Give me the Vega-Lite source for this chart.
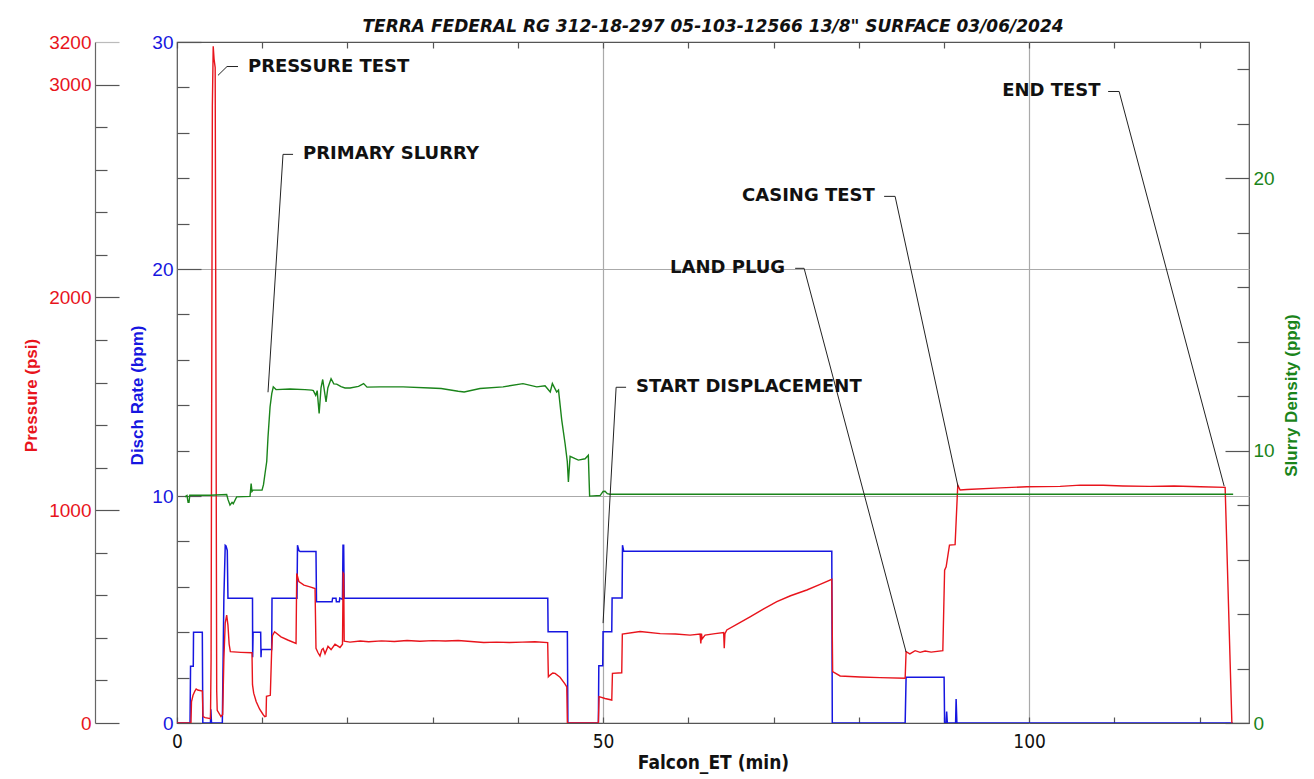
{
  "$schema": "https://vega.github.io/schema/vega-lite/v6.json",
  "width": 1072,
  "height": 681,
  "autosize": {"type": "none"},
  "padding": {"left": 177, "top": 42, "right": 65, "bottom": 56},
  "background": "white",
  "config": {
    "view": {"stroke": "#555", "strokeWidth": 1.2},
    "axis": {
      "labelFont": "Liberation Sans", "labelFontSize": 19,
      "titleFont": "Liberation Sans", "titleFontSize": 17, "titleFontWeight": "bold",
      "tickColor": "#555", "tickWidth": 1.2,
      "labelFlush": false, "labelOverlap": false, "labelBound": false
    }
  },
  "title": {
    "text": "TERRA FEDERAL RG 312-18-297 05-103-12566 13/8\" SURFACE 03/06/2024",
    "font": "DejaVu Sans", "fontSize": 17, "fontWeight": "bold", "fontStyle": "italic",
    "color": "#111", "anchor": "middle", "frame": "group", "baseline": "alphabetic", "offset": -16
  },
  "datasets": {
    "rate": [
      {"t":0,"r":0},{"t":1.53,"r":0},{"t":1.59,"r":2.5},{"t":1.91,"r":2.5},{"t":1.94,"r":4.0},{"t":2.97,"r":4.0},{"t":3.03,"r":0},{"t":3.93,"r":0},{"t":3.97,"r":0.6},{"t":4.05,"r":0},{"t":5.32,"r":0},{"t":5.5,"r":5.5},{"t":5.66,"r":7.83},{"t":5.75,"r":7.8},{"t":5.9,"r":7.6},{"t":5.98,"r":5.5},{"t":8.86,"r":5.5},{"t":8.88,"r":2.9},{"t":8.93,"r":4.0},{"t":9.82,"r":4.0},{"t":9.86,"r":2.9},{"t":9.9,"r":3.24},{"t":11.11,"r":3.24},{"t":11.15,"r":5.5},{"t":14.08,"r":5.5},{"t":14.14,"r":7.83},{"t":14.3,"r":7.6},{"t":14.45,"r":7.55},{"t":16.31,"r":7.55},{"t":16.37,"r":5.34},{"t":18.2,"r":5.34},{"t":18.26,"r":5.5},{"t":18.66,"r":5.5},{"t":18.7,"r":5.34},{"t":19.05,"r":5.34},{"t":19.1,"r":5.5},{"t":19.42,"r":5.45},{"t":19.48,"r":7.83},{"t":19.56,"r":7.83},{"t":19.62,"r":5.5},{"t":43.51,"r":5.5},{"t":43.55,"r":4.02},{"t":45.81,"r":4.02},{"t":45.87,"r":0},{"t":49.45,"r":0},{"t":49.5,"r":2.52},{"t":49.96,"r":2.52},{"t":50.0,"r":4.02},{"t":51.02,"r":4.02},{"t":51.06,"r":5.51},{"t":52.23,"r":5.51},{"t":52.28,"r":7.83},{"t":52.42,"r":7.57},{"t":76.84,"r":7.57},{"t":76.9,"r":0},{"t":85.45,"r":0},{"t":85.56,"r":2.01},{"t":90.02,"r":2.01},{"t":90.08,"r":0},{"t":90.26,"r":0},{"t":90.32,"r":0.5},{"t":90.4,"r":0},{"t":91.37,"r":0},{"t":91.43,"r":1.06},{"t":91.52,"r":0},{"t":123.9,"r":0}
    ],
    "pressure": [
      {"t":0,"p":0},{"t":1.64,"p":0},{"t":1.7,"p":100},{"t":1.88,"p":130},{"t":2.1,"p":150},{"t":2.25,"p":160},{"t":2.43,"p":155},{"t":2.98,"p":150},{"t":3.05,"p":30},{"t":3.3,"p":25},{"t":3.93,"p":20},{"t":4.0,"p":300},{"t":4.15,"p":2900},{"t":4.25,"p":3180},{"t":4.35,"p":3120},{"t":4.48,"p":3080},{"t":4.58,"p":1500},{"t":4.66,"p":150},{"t":4.72,"p":60},{"t":5.16,"p":30},{"t":5.36,"p":40},{"t":5.5,"p":300},{"t":5.66,"p":470},{"t":5.83,"p":507},{"t":5.98,"p":460},{"t":6.12,"p":370},{"t":6.26,"p":335},{"t":7.5,"p":332},{"t":8.8,"p":330},{"t":8.86,"p":180},{"t":9.0,"p":140},{"t":9.3,"p":100},{"t":9.7,"p":65},{"t":10.1,"p":40},{"t":10.3,"p":30},{"t":10.45,"p":32},{"t":10.5,"p":125},{"t":10.95,"p":130},{"t":11.1,"p":330},{"t":11.2,"p":410},{"t":11.45,"p":429},{"t":12.2,"p":405},{"t":13.0,"p":390},{"t":13.97,"p":374},{"t":14.05,"p":703},{"t":14.3,"p":665},{"t":14.9,"p":648},{"t":15.6,"p":640},{"t":16.2,"p":632},{"t":16.31,"p":351},{"t":16.55,"p":330},{"t":16.78,"p":315},{"t":17.0,"p":345},{"t":17.15,"p":350},{"t":17.37,"p":325},{"t":17.72,"p":360},{"t":18.08,"p":345},{"t":18.54,"p":370},{"t":19.13,"p":355},{"t":19.42,"p":370},{"t":19.5,"p":704},{"t":19.56,"p":700},{"t":19.62,"p":385},{"t":20.3,"p":380},{"t":21.5,"p":385},{"t":22.5,"p":382},{"t":24.0,"p":386},{"t":25.5,"p":383},{"t":27,"p":388},{"t":28.5,"p":384},{"t":30,"p":387},{"t":31.5,"p":385},{"t":33,"p":388},{"t":34.5,"p":383},{"t":36,"p":378},{"t":37.5,"p":380},{"t":39,"p":378},{"t":40.5,"p":380},{"t":42,"p":382},{"t":43.5,"p":378},{"t":43.58,"p":217},{"t":43.78,"p":225},{"t":44.1,"p":235},{"t":44.37,"p":233},{"t":44.95,"p":215},{"t":45.5,"p":185},{"t":45.74,"p":170},{"t":45.81,"p":0},{"t":49.45,"p":0},{"t":49.53,"p":124},{"t":50.23,"p":115},{"t":51.02,"p":108},{"t":51.1,"p":233},{"t":52.19,"p":236},{"t":52.26,"p":418},{"t":54.34,"p":430},{"t":56.7,"p":420},{"t":58.5,"p":418},{"t":60.21,"p":413},{"t":61.38,"p":418},{"t":61.47,"p":374},{"t":61.55,"p":420},{"t":61.62,"p":395},{"t":61.97,"p":413},{"t":63.15,"p":420},{"t":64.15,"p":425},{"t":64.22,"p":351},{"t":64.3,"p":420},{"t":64.52,"p":437},{"t":66,"p":470},{"t":67.25,"p":499},{"t":68.8,"p":535},{"t":70.39,"p":570},{"t":72,"p":598},{"t":73.91,"p":625},{"t":75.4,"p":650},{"t":76.84,"p":675},{"t":76.94,"p":241},{"t":77.82,"p":221},{"t":80.16,"p":216},{"t":82.51,"p":213},{"t":85.45,"p":210},{"t":85.56,"p":335},{"t":86.0,"p":325},{"t":86.62,"p":340},{"t":87.2,"p":332},{"t":87.79,"p":338},{"t":88.5,"p":333},{"t":89.87,"p":340},{"t":90.08,"p":718},{"t":90.26,"p":734},{"t":90.65,"p":836},{"t":91.31,"p":838},{"t":91.58,"p":1079},{"t":91.63,"p":1117},{"t":91.9,"p":1095},{"t":92.69,"p":1097},{"t":96.6,"p":1105},{"t":99.73,"p":1110},{"t":103.64,"p":1112},{"t":106,"p":1118},{"t":108.69,"p":1117},{"t":111,"p":1114},{"t":114.2,"p":1112},{"t":117,"p":1114},{"t":120.1,"p":1110},{"t":123.0,"p":1107},{"t":123.79,"p":0}
    ],
    "density": [
      {"t":0.94,"d":8.30},{"t":1.17,"d":8.35},{"t":1.3,"d":8.1},{"t":1.41,"d":8.1},{"t":1.5,"d":8.36},{"t":3.87,"d":8.36},{"t":5.83,"d":8.39},{"t":5.99,"d":8.2},{"t":6.22,"d":8.0},{"t":6.46,"d":8.1},{"t":6.6,"d":8.05},{"t":7.0,"d":8.30},{"t":8.57,"d":8.32},{"t":8.7,"d":8.79},{"t":8.8,"d":8.5},{"t":8.92,"d":8.55},{"t":9.98,"d":8.55},{"t":10.15,"d":8.75},{"t":10.33,"d":9.16},{"t":10.53,"d":9.6},{"t":10.68,"d":10.5},{"t":10.92,"d":11.6},{"t":11.12,"d":12.09},{"t":11.3,"d":12.34},{"t":11.62,"d":12.24},{"t":13.26,"d":12.26},{"t":15.02,"d":12.24},{"t":15.81,"d":12.22},{"t":16.0,"d":12.2},{"t":16.28,"d":12.03},{"t":16.45,"d":12.2},{"t":16.68,"d":11.36},{"t":16.9,"d":12.3},{"t":17.1,"d":12.61},{"t":17.49,"d":11.79},{"t":17.7,"d":12.3},{"t":18.08,"d":12.64},{"t":18.4,"d":12.45},{"t":18.74,"d":12.44},{"t":19.25,"d":12.35},{"t":19.72,"d":12.30},{"t":20.31,"d":12.30},{"t":21.3,"d":12.36},{"t":21.9,"d":12.46},{"t":22.3,"d":12.33},{"t":23.83,"d":12.34},{"t":26.53,"d":12.34},{"t":29.7,"d":12.30},{"t":31,"d":12.28},{"t":33.0,"d":12.18},{"t":33.7,"d":12.15},{"t":35.56,"d":12.28},{"t":38.26,"d":12.34},{"t":40.6,"d":12.46},{"t":42.22,"d":12.34},{"t":43.19,"d":12.38},{"t":43.8,"d":12.15},{"t":44.05,"d":12.46},{"t":44.56,"d":12.15},{"t":44.77,"d":12.22},{"t":45.15,"d":11.12},{"t":45.54,"d":10.26},{"t":45.8,"d":9.6},{"t":45.93,"d":8.85},{"t":46.13,"d":9.79},{"t":47.1,"d":9.65},{"t":47.89,"d":9.70},{"t":48.27,"d":9.83},{"t":48.42,"d":8.33},{"t":49.65,"d":8.35},{"t":50.0,"d":8.5},{"t":50.23,"d":8.51},{"t":50.5,"d":8.42},{"t":50.82,"d":8.40},{"t":55.5,"d":8.40},{"t":123.94,"d":8.40}
    ],
    "leaders": [
      {"id":"PT","k":1,"t":4.81,"r":28.53},{"id":"PT","k":2,"t":5.87,"r":28.92},{"id":"PT","k":3,"t":7.16,"r":28.92},
      {"id":"PS","k":1,"t":10.68,"r":14.57},{"id":"PS","k":2,"t":12.44,"r":25.05},{"id":"PS","k":3,"t":13.62,"r":25.05},
      {"id":"SD","k":1,"t":50.0,"r":4.40},{"id":"SD","k":2,"t":51.53,"r":14.79},{"id":"SD","k":3,"t":52.70,"r":14.79},
      {"id":"LP","k":1,"t":85.56,"r":3.125},{"id":"LP","k":2,"t":73.59,"r":20.03},{"id":"LP","k":3,"t":72.54,"r":20.03},
      {"id":"CT","k":1,"t":91.67,"r":10.39},{"id":"CT","k":2,"t":84.27,"r":23.20},{"id":"CT","k":3,"t":82.98,"r":23.20},
      {"id":"ET","k":1,"t":122.89,"r":10.43},{"id":"ET","k":2,"t":110.56,"r":27.82},{"id":"ET","k":3,"t":109.27,"r":27.82}
    ],
    "notes": [
      {"t":8.33,"r":28.92,"label":"PRESSURE TEST"},
      {"t":14.79,"r":25.05,"label":"PRIMARY SLURRY"},
      {"t":53.87,"r":14.79,"label":"START DISPLACEMENT"},
      {"t":57.86,"r":20.03,"label":"LAND PLUG"},
      {"t":66.31,"r":23.20,"label":"CASING TEST"},
      {"t":96.83,"r":27.82,"label":"END TEST"}
    ]
  },
  "resolve": {"scale": {"x": "independent", "y": "independent"}},
  "layer": [
    {
      "data": {"name": "rate"},
      "mark": {"type": "line", "color": "#1616e0", "strokeWidth": 1.5, "clip": true},
      "encoding": {
        "x": {"field": "t", "type": "quantitative", "scale": {"domain": [0, 125.8], "nice": false, "zero": false},
          "axis": {"orient": "bottom", "values": [0,10,20,30,40,50,60,70,80,90,100,110,120],
            "labelExpr": "datum.value % 50 === 0 ? datum.label : ''",
            "tickSize": -6, "labelPadding": 15, "domain": false,
            "labelFont": "DejaVu Sans Condensed", "labelFontSize": 19, "labelColor": "#111",
            "grid": true, "gridColor": "#aaa", "gridWidth": 1.2,
            "gridOpacity": {"condition": {"test": "datum.value === 50 || datum.value === 100", "value": 1}, "value": 0},
            "title": "Falcon_ET (min)", "titleFont": "DejaVu Sans Condensed", "titleFontSize": 19, "titleColor": "#111", "titlePadding": 2}},
        "y": {"field": "r", "type": "quantitative", "scale": {"domain": [0, 30], "nice": false},
          "axis": {"orient": "left", "values": [0,2,4,6,8,10,12,14,16,18,20,22,24,26,28,30],
            "labelExpr": "datum.value % 10 === 0 ? datum.label : ''",
            "tickSize": {"condition": {"test": "datum.value % 10 === 0", "value": -24}, "value": -12},
            "labelPadding": 28, "labelColor": "#1616e0", "domain": false,
            "grid": true, "gridColor": "#aaa", "gridWidth": 1.2,
            "gridOpacity": {"condition": {"test": "datum.value === 10 || datum.value === 20", "value": 1}, "value": 0},
            "title": "Disch Rate (bpm)", "titleColor": "#1616e0", "titleAngle": 270,
            "titleX": -40, "titleY": 353, "titleAlign": "center", "titleBaseline": "middle"}}
      }
    },
    {
      "data": {"name": "pressure"},
      "mark": {"type": "line", "color": "#e8141c", "strokeWidth": 1.4, "clip": true},
      "encoding": {
        "x": {"field": "t", "type": "quantitative", "scale": {"domain": [0, 125.8], "nice": false, "zero": false},
          "axis": {"orient": "top", "values": [0,10,20,30,40,50,60,70,80,90,100,110,120],
            "labels": false, "tickSize": -6, "domain": false, "grid": false, "title": null}},
        "y": {"field": "p", "type": "quantitative", "scale": {"domain": [0, 3200], "nice": false},
          "axis": {"orient": "left", "offset": 82,
            "values": [0,200,400,600,800,1000,1200,1400,1600,1800,2000,2200,2400,2600,2800,3000,3200],
            "labelExpr": "(datum.value % 1000 === 0 || datum.value === 3200) ? datum.label : ''",
            "tickSize": {"condition": {"test": "datum.value % 1000 === 0 || datum.value === 3200", "value": -24}, "value": -12},
            "tickColor": {"condition": {"test": "datum.value === 3200", "value": "#bbb"}, "value": "#555"},
            "labelPadding": 28, "labelColor": "#e8141c", "format": "d",
            "domain": true, "domainColor": "#666", "domainWidth": 1.2, "grid": false,
            "title": "Pressure (psi)", "titleColor": "#e8141c", "titleAngle": 270,
            "titleX": -64, "titleY": 353, "titleAlign": "center", "titleBaseline": "middle"}}
      }
    },
    {
      "data": {"name": "density"},
      "mark": {"type": "line", "color": "#1a841a", "strokeWidth": 1.4, "clip": true},
      "encoding": {
        "x": {"field": "t", "type": "quantitative", "scale": {"domain": [0, 125.8], "nice": false, "zero": false}, "axis": null},
        "y": {"field": "d", "type": "quantitative", "scale": {"domain": [0, 25], "nice": false},
          "axis": {"orient": "right", "values": [0,2,4,6,8,10,12,14,16,18,20,22,24],
            "labelExpr": "datum.value % 10 === 0 ? datum.label : ''",
            "tickSize": {"condition": {"test": "datum.value % 10 === 0", "value": -24}, "value": -12},
            "labelPadding": 28, "labelColor": "#1a841a", "domain": false, "grid": false,
            "title": "Slurry Density (ppg)", "titleColor": "#1a841a", "titleAngle": 270,
            "titleX": 42, "titleY": 353, "titleAlign": "center", "titleBaseline": "middle"}}
      }
    },
    {
      "data": {"name": "leaders"},
      "mark": {"type": "line", "color": "#222", "strokeWidth": 1},
      "encoding": {
        "x": {"field": "t", "type": "quantitative", "scale": {"domain": [0, 125.8], "nice": false, "zero": false}, "axis": null},
        "y": {"field": "r", "type": "quantitative", "scale": {"domain": [0, 30], "nice": false}, "axis": null},
        "detail": {"field": "id", "type": "nominal"},
        "order": {"field": "k", "type": "quantitative"}
      }
    },
    {
      "data": {"name": "notes"},
      "mark": {"type": "text", "align": "left", "baseline": "middle", "font": "DejaVu Sans", "fontSize": 18, "fontWeight": "bold", "color": "#111"},
      "encoding": {
        "x": {"field": "t", "type": "quantitative", "scale": {"domain": [0, 125.8], "nice": false, "zero": false}, "axis": null},
        "y": {"field": "r", "type": "quantitative", "scale": {"domain": [0, 30], "nice": false}, "axis": null},
        "text": {"field": "label", "type": "nominal"}
      }
    }
  ]
}
